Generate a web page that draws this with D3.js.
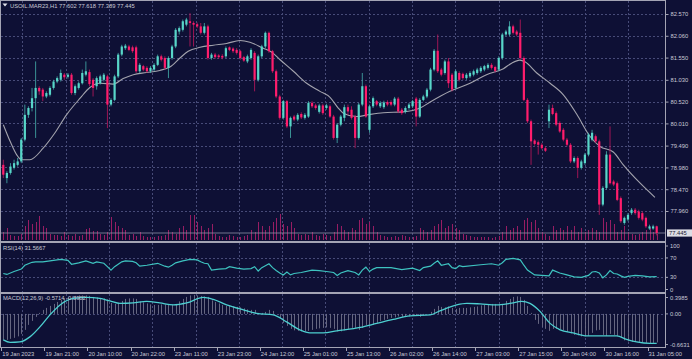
<!DOCTYPE html>
<html><head><meta charset="utf-8">
<script src="https://cdn.jsdelivr.net/npm/d3@7"></script>
<style>
html,body{margin:0;padding:0;background:#0e1035;}
svg{display:block;}
text{font-family:"Liberation Sans",Arial,sans-serif;}
</style></head><body>
<svg id="c" width="692" height="359"></svg>
<script>
const titleText = "USOIL.MAR23,H1 77.602 77.618 77.389 77.445";
const openP = [79.04,78.73,78.85,78.97,79.04,79.12,79.63,80.21,80.37,80.60,
80.84,80.80,80.64,80.68,80.84,80.99,81.03,81.15,81.10,81.15,
80.72,80.84,80.95,81.15,81.21,81.03,80.88,80.95,81.03,81.11,
80.45,80.56,81.11,81.62,81.77,81.81,81.79,81.79,81.23,81.35,
81.31,81.23,81.27,81.38,81.58,81.54,81.31,81.54,81.81,82.16,
82.20,82.32,82.40,82.36,82.33,82.28,82.13,82.28,81.54,81.62,
81.60,81.59,81.58,81.79,81.76,81.73,81.70,81.56,81.46,81.54,
81.66,81.03,81.58,81.81,82.13,81.70,81.23,80.64,80.14,80.53,
79.94,80.17,80.10,80.23,80.14,80.17,80.49,80.43,80.28,80.43,
80.37,80.41,80.17,79.67,79.98,80.14,80.39,80.33,80.17,79.67,
80.45,80.88,79.86,80.41,80.53,80.41,80.39,80.51,80.51,80.45,
80.59,80.33,80.28,80.37,80.41,80.59,80.17,80.56,80.64,80.80,
81.27,81.71,81.27,81.19,81.46,81.15,80.84,81.19,81.17,81.07,
81.11,81.15,81.19,81.23,81.27,81.31,81.38,81.33,81.27,81.54,
82.09,82.09,82.28,82.16,82.13,81.54,80.56,80.06,79.61,79.57,
79.51,79.43,80.06,80.37,80.25,80.02,79.86,79.63,79.51,79.12,
79.20,78.97,79.08,79.28,79.63,79.71,79.59,78.11,78.50,79.28,
78.65,78.61,78.26,77.68,77.76,77.91,77.99,77.95,77.91,77.80,
77.55,77.55,77.602];
const highP = [79.16,78.89,79.08,79.16,79.20,79.67,80.45,80.41,80.84,81.46,
80.88,80.84,80.76,80.88,81.03,81.11,81.27,81.19,81.19,81.19,
80.92,80.99,81.27,81.46,81.27,81.07,81.11,81.15,81.19,81.15,
80.60,81.15,81.66,81.85,81.87,81.85,81.83,81.83,81.42,81.38,
81.35,81.35,81.42,81.62,81.62,81.58,81.58,81.85,82.24,82.28,
82.44,82.48,82.59,82.40,82.37,82.36,82.36,82.32,81.66,81.66,
81.63,81.63,81.81,81.81,81.79,81.77,81.73,81.59,81.62,81.77,
81.70,81.62,81.85,82.16,82.16,81.73,81.27,80.68,80.56,80.56,
80.17,80.21,80.25,80.27,80.25,80.53,80.53,80.47,80.47,80.47,
80.47,80.45,80.21,80.02,80.21,80.45,80.45,80.41,80.21,80.49,
81.19,80.92,80.45,80.64,80.56,80.53,80.54,80.55,80.55,80.63,
80.63,80.37,80.41,80.49,80.56,80.63,80.60,80.68,80.84,81.31,
81.75,82.09,81.31,81.50,81.54,81.19,81.27,81.23,81.20,81.19,
81.23,81.27,81.31,81.35,81.38,81.42,81.42,81.36,81.58,82.13,
82.20,82.40,82.32,82.20,82.44,81.58,80.60,80.10,79.64,79.61,
79.55,79.47,80.45,80.45,80.29,80.06,79.90,79.67,79.55,79.24,
79.24,79.16,79.32,79.79,79.86,79.75,79.63,78.54,79.36,79.94,
78.69,78.65,78.30,77.83,77.91,78.03,78.03,77.99,77.95,77.83,
77.64,77.64,77.618];
const lowP = [78.73,78.61,78.81,78.93,79.00,79.08,79.59,80.14,80.29,79.67,
80.68,80.53,80.60,80.64,80.80,80.95,80.99,81.03,81.06,80.68,
80.67,80.80,80.92,81.11,80.88,80.64,80.80,80.92,80.99,79.90,
80.41,80.53,81.07,81.58,81.73,81.70,81.66,81.19,81.19,81.23,
81.19,81.19,81.23,81.35,81.46,81.27,81.07,81.50,81.77,82.09,
82.16,82.28,81.81,81.81,82.24,82.09,82.09,81.50,81.50,81.52,
81.52,81.51,81.54,81.70,81.66,81.62,81.50,81.45,81.42,81.50,
80.76,80.99,81.54,81.77,81.66,81.19,80.60,80.10,80.10,79.90,
79.67,80.06,80.06,80.11,80.10,80.14,80.37,80.33,80.24,80.21,
80.33,80.14,79.63,79.55,79.94,80.06,80.21,80.10,79.43,79.63,
80.41,80.14,79.79,80.37,80.41,80.37,80.35,80.41,80.41,80.41,
80.25,80.21,80.24,80.33,80.37,79.94,80.14,80.53,80.60,80.76,
81.23,81.19,81.11,81.15,80.84,80.76,80.80,80.99,81.03,81.03,
81.07,81.11,81.15,81.19,81.23,81.27,81.27,81.20,81.23,81.50,
82.05,82.05,82.09,82.05,81.50,80.53,80.02,79.04,79.49,79.28,
79.40,79.34,79.90,80.20,79.94,79.79,79.59,79.47,79.08,79.08,
78.73,78.93,79.04,79.24,79.59,79.55,77.87,78.07,78.46,78.58,
78.54,78.19,77.68,77.64,77.72,77.87,77.87,77.76,77.72,77.56,
77.52,77.52,77.389];
const closeP = [78.81,78.85,79.00,79.08,79.12,79.63,80.21,80.37,80.60,80.84,
80.76,80.64,80.72,80.84,80.99,81.07,81.19,81.09,81.15,80.72,
80.88,80.95,81.19,81.23,80.93,80.84,81.07,81.11,81.15,80.45,
80.56,81.11,81.62,81.81,81.83,81.73,81.70,81.23,81.38,81.27,
81.23,81.31,81.38,81.58,81.50,81.31,81.54,81.81,82.20,82.24,
82.40,82.44,82.36,82.32,82.28,82.13,82.28,81.54,81.62,81.56,
81.56,81.55,81.77,81.73,81.70,81.66,81.54,81.48,81.58,81.73,
81.03,81.58,81.81,82.13,81.70,81.23,80.64,80.14,80.53,79.94,
80.14,80.10,80.21,80.15,80.21,80.49,80.41,80.37,80.43,80.25,
80.43,80.17,79.67,79.98,80.17,80.39,80.29,80.14,79.67,80.45,
80.88,80.17,80.41,80.60,80.45,80.49,80.50,80.45,80.45,80.59,
80.29,80.25,80.37,80.45,80.53,80.17,80.56,80.64,80.80,81.27,
81.71,81.23,81.15,81.46,80.95,80.80,81.23,81.03,81.07,81.15,
81.19,81.23,81.27,81.31,81.35,81.38,81.31,81.24,81.54,82.09,
82.16,82.28,82.13,82.09,81.54,80.56,80.06,79.59,79.53,79.51,
79.43,79.37,80.33,80.23,79.98,79.82,79.63,79.51,79.12,79.20,
78.97,79.12,79.28,79.75,79.79,79.59,78.11,78.50,79.28,78.61,
78.58,78.22,77.72,77.80,77.87,77.99,77.91,77.80,77.76,77.60,
77.60,77.60,77.445];
const volume = [2000,3000,1250,1000,1000,1500,3500,5000,4000,4500,
6000,3500,3000,1500,1250,1250,1000,2000,1250,1000,
1500,1000,1250,2750,3000,2250,2250,1500,1250,2000,
5750,4500,3500,3000,2500,1250,1500,1000,2000,1000,
750,750,750,1000,1000,1250,2500,2000,1500,3000,
3500,2500,6250,6250,4500,3500,2500,3000,4000,1500,
1000,750,750,1250,1000,750,750,1000,1250,2500,
2000,4500,3500,2500,3500,4500,5500,6500,4000,3500,
4500,3000,1500,1250,1500,1250,2000,1250,1000,1500,
1250,1000,2000,4000,3500,2500,2000,3000,2500,5000,
5500,4000,4500,3500,2000,1250,1000,750,750,1000,
750,1250,1000,750,750,1000,3000,2500,2000,2500,
3500,4000,5000,3000,3500,4000,3000,2500,1500,1250,
1000,750,750,750,750,750,500,750,1000,2000,
3500,2500,3000,3500,2500,5000,5500,4500,5000,3000,
2000,1500,1000,3500,2500,3000,2500,3500,2500,3500,
2000,3000,2000,2500,3000,2500,2000,5500,4500,5000,
4000,2000,2500,3500,2000,1500,1250,1500,2000,2500,
3000,2000,1500];
const maIdx = [0,1.9,3.7,5.1,7.4,11.1,14.4,17.6,21.4,24.1,26.9,30.6,33.4,36.2,39.9,43.6,46.4,49.2,51.5,54.8,58.5,62.2,65.9,68.7,72.4,74.7,77.1,80.8,84.5,88.2,91,93.3,94.7,98.4,102.1,105.9,111.4,116.1,118.9,124.4,130,134.6,139.3,141.6,143.9,145.3,148.6,152.3,156,159.7,163.4,166.2,169.9,172.7,177.4,181.5];
const maVal = [79.98,79.59,79.28,79.16,79.16,79.43,79.79,80.21,80.60,80.85,80.95,80.93,81.06,81.15,81.20,81.25,81.33,81.54,81.70,81.79,81.84,81.88,81.95,81.91,81.77,81.68,81.50,81.23,80.95,80.76,80.62,80.37,80.25,80.17,80.22,80.26,80.28,80.37,80.51,80.76,80.95,81.15,81.29,81.42,81.49,81.45,81.19,80.95,80.68,80.23,79.71,79.47,79.34,79.04,78.61,78.28];
const rsiIdx = [0,1,3,5,6,8,9,11,13,15,16,18,19,21,23,25,26,28,29,30,31,32,33,34,36,37,38,40,43,45,46,47,48,50,52,54,55,56,57,58,60,62,63,65,67,69,70,71,72,73,74,75,76,77,78,79,80,81,83,86,88,90,92,93,94,96,98,99,100,101,102,103,104,108,111,114,116,117,119,120,121,122,124,125,126,127,128,133,136,138,139,140,142,144,145,146,147,148,150,152,153,155,157,159,161,163,164,165,166,167,168,169,170,171,172,173,174,176,178,180,182];
const rsiVal = [38,36,42,47,55,61,62,62,64,66,67,65,57,60,64,59,62,59,52,45,52,57,62,64,63,60,53,55,59,53,51,55,60,64,67,66,62,59,58,45,47,48,52,49,47,48,52,43,50,54,58,50,44,39,35,41,35,38,40,45,44,42,40,34,39,44,40,35,45,51,42,47,50,50,46,49,44,50,53,59,64,55,58,50,48,54,52,56,58,55,60,67,69,66,55,45,40,35,34,33,45,39,35,31,30,34,41,42,39,29,35,44,38,37,33,30,32,34,33,31,31.5667];
const macdMain = [-0.52,-0.52,-0.50,-0.48,-0.45,-0.40,-0.32,-0.22,-0.14,-0.06,
0.02,0.08,0.12,0.16,0.20,0.24,0.28,0.31,0.33,0.35,
0.36,0.37,0.37,0.37,0.36,0.34,0.33,0.32,0.31,0.29,
0.22,0.20,0.22,0.26,0.30,0.31,0.31,0.30,0.25,0.23,
0.21,0.19,0.18,0.18,0.19,0.19,0.18,0.18,0.20,0.25,
0.30,0.34,0.37,0.38,0.37,0.36,0.35,0.34,0.27,0.24,
0.21,0.18,0.16,0.16,0.15,0.14,0.13,0.11,0.09,0.08,
0.08,0.02,0.02,0.04,0.08,0.06,0.00,-0.08,-0.18,-0.24,
-0.30,-0.33,-0.34,-0.35,-0.35,-0.34,-0.32,-0.30,-0.29,-0.28,
-0.27,-0.28,-0.30,-0.35,-0.35,-0.33,-0.30,-0.28,-0.28,-0.32,
-0.28,-0.22,-0.24,-0.22,-0.18,-0.14,-0.12,-0.10,-0.08,-0.07,
-0.05,-0.06,-0.06,-0.05,-0.04,-0.03,-0.06,-0.03,0.00,0.04,
0.10,0.16,0.14,0.13,0.15,0.12,0.10,0.12,0.12,0.12,
0.13,0.14,0.15,0.17,0.18,0.19,0.20,0.20,0.19,0.20,
0.26,0.30,0.34,0.35,0.34,0.28,0.16,0.02,-0.12,-0.20,
-0.26,-0.30,-0.34,-0.30,-0.30,-0.31,-0.33,-0.36,-0.39,-0.42,
-0.43,-0.45,-0.45,-0.44,-0.38,-0.33,-0.32,-0.42,-0.44,-0.40,
-0.42,-0.44,-0.48,-0.53,-0.55,-0.56,-0.56,-0.56,-0.57,-0.58,
-0.59,-0.58,-0.5714];
const sigIdx = [0,1.9,4.6,7.4,10.2,13,15.8,19.5,23.2,26.9,29.7,32.5,36.2,39.9,43.6,47.4,51.1,55.7,58.5,62.2,66.9,70.6,75.2,78.9,82.6,85.4,89.1,92.9,99.4,104,108.6,113.3,118.9,121.6,126.3,129.1,132.8,137.4,141.1,144.4,146.7,149.5,152.3,155.1,158.7,162.5,166.2,170.9,173.6,176.4,180.1,182];
const sigVal = [-0.52,-0.57,-0.56,-0.46,-0.26,-0.02,0.18,0.31,0.33,0.31,0.26,0.21,0.22,0.25,0.22,0.18,0.22,0.33,0.29,0.18,0.08,0.01,-0.02,-0.16,-0.32,-0.38,-0.38,-0.34,-0.27,-0.19,-0.11,-0.04,-0.02,0.06,0.18,0.21,0.20,0.18,0.21,0.25,0.21,0.05,-0.19,-0.32,-0.38,-0.44,-0.44,-0.44,-0.51,-0.56,-0.59,-0.5902];
const priceTicks = [82.57,82.06,81.55,81.03,80.52,80.01,79.49,78.98,78.47,77.96];
const timeIdx = [0,12,24,36,48,60,72,84,96,108,120,132,144,156,168,180];
const timeLabels = ["19 Jan 2023","19 Jan 21:00","20 Jan 10:00","20 Jan 22:00","23 Jan 11:00","23 Jan 23:00","24 Jan 12:00","25 Jan 01:00","25 Jan 13:00","26 Jan 02:00","26 Jan 14:00","27 Jan 03:00","27 Jan 15:00","30 Jan 04:00","30 Jan 16:00","31 Jan 05:00"];
const rsiTicks = [100,70,30,0];
const macdTicks = [0.3985,0,-0.6631];
const macdTickLabels = ["0.3985","0.00","-0.6631"];
const rsiTitle = "RSI(14) 31.5667";
const macdTitle = "MACD(12,26,9) -0.5714 -0.5902";

const N = closeP.length;
const W = 692, H = 359, RX = 665;
const BG = "#0e1035", GRID = "#474b78", FRAME = "#a4a4b4", TXT = "#c9c9d6";
const UP = "#58d6c9", DN = "#ff1d6c", UPW = "#45b3ad", DNW = "#c2185d";
const svg = d3.select("#c");
svg.append("rect").attr("width",W).attr("height",H).attr("fill",BG);

const x = d3.scaleLinear().domain([0, N-1]).range([3.3, 656.7]);
const yP = d3.scaleLinear().domain([77.96, 82.57]).range([211, 14]);
const yV = d3.scaleLinear().domain([0, 7500]).range([240, 210]);
const yR = d3.scaleLinear().domain([0, 100]).range([291.9, 243.4]);
const yM = d3.scaleLinear().domain([-0.6631, 0.3985]).range([347, 294]);

const panels = [[1,241],[243,292],[294,347]];
const defs = svg.append("defs");
panels.forEach((p,k)=>defs.append("clipPath").attr("id","cp"+k).append("rect")
  .attr("x",1).attr("y",p[0]).attr("width",RX-1).attr("height",p[1]-p[0]));

// vertical grid
const gridIdx = d3.range(0, 15).map(k => 5.3 + 12.06*k);
panels.forEach((p,k)=>{
  svg.append("g").selectAll("line").data(gridIdx).join("line")
    .attr("x1",d=>Math.round(x(d))+0.5).attr("x2",d=>Math.round(x(d))+0.5)
    .attr("y1",p[0]).attr("y2",p[1]).attr("stroke",GRID).attr("stroke-width",1).attr("stroke-dasharray","2,2");
});
// horizontal grid main
svg.append("g").selectAll("line").data(priceTicks).join("line")
  .attr("x1",1).attr("x2",RX).attr("y1",d=>Math.round(yP(d))+0.5).attr("y2",d=>Math.round(yP(d))+0.5)
  .attr("stroke",GRID).attr("stroke-dasharray","2,2");
svg.append("g").selectAll("line").data([70,30]).join("line")
  .attr("x1",1).attr("x2",RX).attr("y1",d=>Math.round(yR(d))+0.5).attr("y2",d=>Math.round(yR(d))+0.5)
  .attr("stroke",GRID).attr("stroke-dasharray","2,2");
svg.append("line").attr("x1",1).attr("x2",RX).attr("y1",Math.round(yM(0))+0.5).attr("y2",Math.round(yM(0))+0.5)
  .attr("stroke",GRID).attr("stroke-dasharray","2,2");

// volumes
const gMain = svg.append("g").attr("clip-path","url(#cp0)");
gMain.append("g").selectAll("line").data(volume).join("line")
  .attr("x1",(d,i)=>Math.round(x(i))+0.5).attr("x2",(d,i)=>Math.round(x(i))+0.5)
  .attr("y1",yV(0)).attr("y2",d=>yV(d)).attr("stroke","#981d63").attr("stroke-width",1);

// current price line
const last = closeP[N-1];
gMain.append("line").attr("x1",1).attr("x2",RX).attr("y1",yP(last)).attr("y2",yP(last))
  .attr("stroke","#8d8fa6").attr("stroke-width",0.8);

// MA
gMain.append("path").datum(maIdx.map((d,i)=>[d,maVal[i]]))
  .attr("d",d3.line().x(d=>x(d[0])).y(d=>yP(d[1])).curve(d3.curveMonotoneX))
  .attr("fill","none").attr("stroke","#a3a3ad").attr("stroke-width",1.1);

// candles
const idx = d3.range(N);
gMain.append("g").selectAll("line").data(idx).join("line")
  .attr("x1",i=>x(i)).attr("x2",i=>x(i))
  .attr("y1",i=>yP(highP[i])).attr("y2",i=>yP(lowP[i]))
  .attr("stroke",i=>closeP[i]>=openP[i]?UPW:DNW).attr("stroke-width",0.8);
gMain.append("g").selectAll("rect").data(idx).join("rect")
  .attr("x",i=>x(i)-1.1).attr("width",2.2)
  .attr("y",i=>yP(Math.max(openP[i],closeP[i])))
  .attr("height",i=>Math.max(1,Math.abs(yP(openP[i])-yP(closeP[i]))))
  .attr("fill",i=>closeP[i]>=openP[i]?UP:DN);

// RSI
svg.append("g").attr("clip-path","url(#cp1)").append("path")
  .datum(rsiIdx.map((d,i)=>[d,rsiVal[i]]))
  .attr("d",d3.line().x(d=>x(d[0])).y(d=>yR(d[1])))
  .attr("fill","none").attr("stroke","#3ec3c0").attr("stroke-width",1.2);

// MACD
const gM = svg.append("g").attr("clip-path","url(#cp2)");
gM.append("g").selectAll("line").data(macdMain).join("line")
  .attr("x1",(d,i)=>Math.round(x(i))+0.5).attr("x2",(d,i)=>Math.round(x(i))+0.5)
  .attr("y1",yM(0)).attr("y2",d=>yM(d)).attr("stroke","#6f7189").attr("stroke-width",0.9);
gM.append("path").datum(sigIdx.map((d,i)=>[d,sigVal[i]]))
  .attr("d",d3.line().x(d=>x(d[0])).y(d=>yM(d[1])).curve(d3.curveMonotoneX))
  .attr("fill","none").attr("stroke","#4dcfd0").attr("stroke-width",1.3);

// frames / separators
svg.append("rect").attr("x",0.5).attr("y",0.5).attr("width",RX).attr("height",347)
  .attr("fill","none").attr("stroke",FRAME).attr("stroke-width",1);
[242, 293].forEach(y=>svg.append("line").attr("x1",0).attr("x2",RX+0.5).attr("y1",y).attr("y2",y)
  .attr("stroke",FRAME).attr("stroke-width",2));

// price axis
const fs = 5.8;
const axP = d3.axisRight(yP).tickValues(priceTicks).tickFormat(d3.format(".3f")).tickSize(3).tickPadding(2);
const gAx = svg.append("g").attr("transform",`translate(${RX+0.5},0)`).call(axP);
gAx.select(".domain").remove();
gAx.selectAll("line").attr("stroke",FRAME);
gAx.selectAll("text").attr("fill",TXT).attr("font-size",fs).attr("font-family","Liberation Sans, Arial, sans-serif");

// last price label
const ly = yP(last);
svg.append("rect").attr("x",RX+2).attr("y",ly-3.6).attr("width",25).attr("height",7.2).attr("fill","#dcdce4");
svg.append("text").attr("x",RX+4).attr("y",ly).attr("dy","0.35em").attr("font-size",fs).attr("fill","#1a1a30").text(d3.format(".3f")(last));

// RSI axis
svg.append("g").selectAll("text").data(rsiTicks).join("text")
  .attr("x",RX+5).attr("y",d=>Math.min(289.5,Math.max(246,yR(d)))).attr("dy","0.35em")
  .attr("font-size",fs).attr("fill",TXT).text(d=>d);
svg.append("g").selectAll("line").data(rsiTicks).join("line")
  .attr("x1",RX).attr("x2",RX+3).attr("y1",d=>Math.min(289.5,Math.max(246,yR(d)))).attr("y2",d=>Math.min(289.5,Math.max(246,yR(d))))
  .attr("stroke",FRAME);
// MACD axis
svg.append("g").selectAll("text").data(macdTicks).join("text")
  .attr("x",RX+5).attr("y",d=>Math.min(344.5,Math.max(297.5,yM(d)))).attr("dy","0.35em")
  .attr("font-size",fs).attr("fill",TXT).text((d,i)=>macdTickLabels[i]);
svg.append("g").selectAll("line").data(macdTicks).join("line")
  .attr("x1",RX).attr("x2",RX+3).attr("y1",d=>Math.min(344.5,Math.max(297.5,yM(d)))).attr("y2",d=>Math.min(344.5,Math.max(297.5,yM(d))))
  .attr("stroke",FRAME);

// time axis
svg.append("g").selectAll("line").data(timeIdx).join("line")
  .attr("x1",i=>Math.round(x(i)-2)+0.5).attr("x2",i=>Math.round(x(i)-2)+0.5)
  .attr("y1",348).attr("y2",351).attr("stroke",FRAME);
svg.append("g").selectAll("text").data(timeIdx).join("text")
  .attr("x",i=>Math.max(2,x(i)-1)).attr("y",354).attr("dy","0.35em")
  .attr("font-size",fs).attr("fill",TXT).text((d,k)=>timeLabels[k]);

// titles
svg.append("path").attr("d","M2.5,3.5 L7.5,3.5 L5,6.5 Z").attr("fill","#e0e0ea");
svg.append("text").attr("x",10).attr("y",5.5).attr("dy","0.35em").attr("font-size",fs).attr("fill",TXT).text(titleText);
svg.append("text").attr("x",3).attr("y",247.5).attr("dy","0.35em").attr("font-size",fs).attr("fill",TXT).text(rsiTitle);
svg.append("text").attr("x",3).attr("y",298).attr("dy","0.35em").attr("font-size",fs).attr("fill",TXT).text(macdTitle);
</script>
</body></html>
